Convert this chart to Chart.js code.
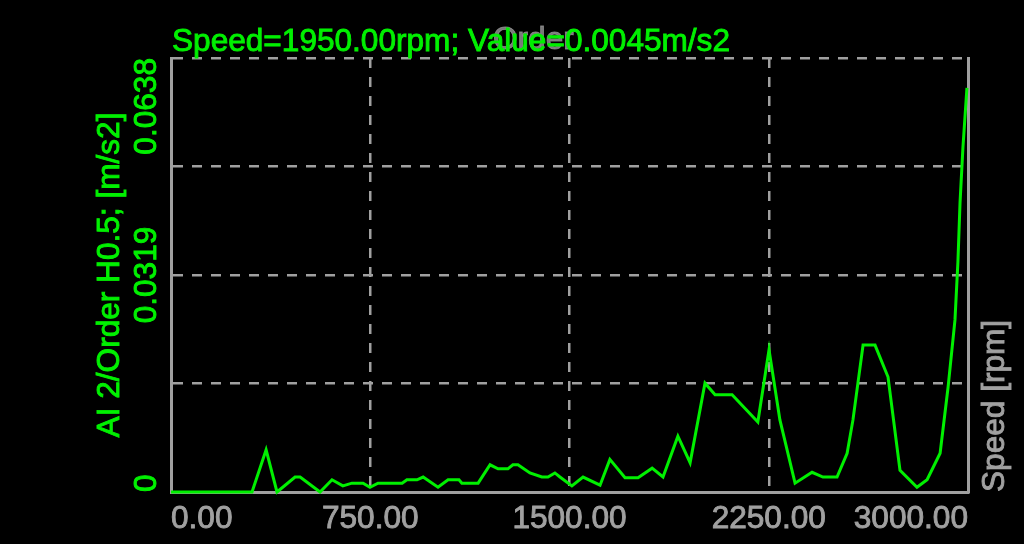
<!DOCTYPE html>
<html>
<head>
<meta charset="utf-8">
<script src="https://cdn.jsdelivr.net/npm/chart.js@4/dist/chart.umd.min.js"></script>
<style>
  html, body { margin: 0; padding: 0; background: #000; }
  #wrap { width: 1024px; height: 544px; }
</style>
</head>
<body>
<div id="wrap"><canvas id="orderChart"></canvas></div>
<script>
// datos
const speedRpm = [0, 305, 358, 399, 467, 486, 561, 606, 647, 681, 723, 749, 779, 870, 888, 926, 949,
  1005, 1043, 1084, 1095, 1156, 1201, 1231, 1268, 1287, 1306, 1351, 1396, 1419, 1445, 1464, 1509,
  1551, 1615, 1652, 1709, 1758, 1811, 1852, 1908, 1954, 2010, 2048, 2112, 2209, 2251, 2292, 2349,
  2413, 2454, 2507, 2545, 2567, 2605, 2650, 2699, 2744, 2808, 2846, 2895, 2925, 2951, 2962, 2970,
  2981, 2996];
const accelValues = [0, 0, 0.0062, 0, 0.0022, 0.0022, 0, 0.0018, 0.0009, 0.0013, 0.0013, 0.0007, 0.0013, 0.0013, 0.0018, 0.0018, 0.0022,
  0.0007, 0.0018, 0.0018, 0.0013, 0.0013, 0.0040, 0.0034, 0.0034, 0.0040, 0.0040, 0.0028, 0.0022, 0.0022, 0.0028, 0.0022, 0.0009,
  0.0022, 0.0010, 0.0048, 0.0021, 0.0021, 0.0035, 0.0022, 0.0082, 0.0043, 0.0160, 0.0143, 0.0143, 0.0103, 0.0209, 0.0106, 0.0013,
  0.0029, 0.0022, 0.0022, 0.0057, 0.0106, 0.0216, 0.0216, 0.0169, 0.0032, 0.0007, 0.0018, 0.0057, 0.0154, 0.0253, 0.0338, 0.0425,
  0.0507, 0.0594];

const xTickValues = [0, 750, 1500, 2250, 3000];
const xTickLabels = ['0.00', '750.00', '1500.00', '2250.00', '3000.00'];
const yTickValues = [0, 0.01595, 0.0319, 0.04785, 0.0638];
const yTickLabels = ['0', '', '0.0319', '', '0.0638'];

const titleText = 'Speed=1950.00rpm; Value=0.0045m/s2';
const ghostText = 'Order';
const yTitle = 'AI 2/Order H0.5; [m/s2]';
const y2Title = 'Speed [rpm]';

const GREEN = '#00f000';
const GREY = '#a0a0a0';
const FONT = "31.6px 'Liberation Sans', Arial, sans-serif";

// texto un poco mas grueso, como en la captura original
function boldText(ctx, txt, x, y, color) {
  ctx.fillStyle = color;
  ctx.strokeStyle = color;
  ctx.lineWidth = 0.9;
  ctx.fillText(txt, x, y);
  ctx.strokeText(txt, x, y);
}

// textos dibujados sobre el canvas
const labelsPlugin = {
  id: 'labels',
  afterDraw(chart) {
    const ctx = chart.ctx;
    const area = chart.chartArea;
    const xs = chart.scales.x;
    const ys = chart.scales.y;
    ctx.save();
    ctx.font = FONT;
    ctx.textBaseline = 'middle';

    // titulo fantasma y titulo
    ctx.textAlign = 'left';
    boldText(ctx, ghostText, 493, 40, 'rgba(150,150,150,0.8)');
    boldText(ctx, titleText, 172, 42, GREEN);

    // etiquetas eje x
    xTickValues.forEach((v, i) => {
      const px = xs.getPixelForValue(v);
      ctx.textAlign = i === 0 ? 'left' : (i === xTickValues.length - 1 ? 'right' : 'center');
      boldText(ctx, xTickLabels[i], px, 519, GREY);
    });

    // etiquetas eje y (rotadas)
    yTickValues.forEach((v, i) => {
      if (!yTickLabels[i]) return;
      const py = ys.getPixelForValue(v);
      ctx.save();
      ctx.translate(147, py);
      ctx.rotate(-Math.PI / 2);
      ctx.textAlign = i === 0 ? 'left' : (i === yTickValues.length - 1 ? 'right' : 'center');
      boldText(ctx, yTickLabels[i], 0, 0, GREEN);
      ctx.restore();
    });

    // titulo eje y
    ctx.save();
    ctx.translate(110, (area.top + area.bottom) / 2);
    ctx.rotate(-Math.PI / 2);
    ctx.textAlign = 'center';
    boldText(ctx, yTitle, 0, 0, GREEN);
    ctx.restore();

    // titulo eje derecho
    ctx.save();
    ctx.translate(995, area.bottom);
    ctx.rotate(-Math.PI / 2);
    ctx.textAlign = 'left';
    boldText(ctx, y2Title, 0, 0, GREY);
    ctx.restore();

    ctx.restore();
  }
};

const bgPlugin = {
  id: 'bg',
  beforeDraw(chart) {
    const ctx = chart.ctx;
    ctx.save();
    ctx.fillStyle = '#000';
    ctx.fillRect(0, 0, chart.width, chart.height);
    ctx.restore();
  }
};

const ctx = document.getElementById('orderChart').getContext('2d');
const orderChart = new Chart(ctx, {
  type: 'line',
  data: {
    datasets: [{
      data: speedRpm.map((s, i) => ({ x: s, y: accelValues[i] })),
      borderColor: GREEN,
      borderWidth: 3,
      tension: 0,
      pointRadius: 0,
      fill: false,
      clip: false
    }]
  },
  options: {
    responsive: true,
    maintainAspectRatio: false,
    animation: false,
    events: [],
    layout: { padding: { left: 171, top: 58, right: 56, bottom: 52 } },
    plugins: { legend: { display: false }, tooltip: { enabled: false }, title: { display: false } },
    scales: {
      x: {
        type: 'linear',
        min: 0,
        max: 3000,
        afterBuildTicks: (scale) => { scale.ticks = xTickValues.map(v => ({ value: v })); },
        ticks: { display: false },
        grid: {
          drawTicks: false,
          lineWidth: 2.5,
          color: (c) => (c.index === 0 || c.index === xTickValues.length - 1) ? 'rgba(0,0,0,0)' : GREY
        },
        border: { display: true, color: GREY, width: 3, dash: [10, 9] }
      },
      y: {
        type: 'linear',
        min: 0,
        max: 0.0638,
        afterBuildTicks: (scale) => { scale.ticks = yTickValues.map(v => ({ value: v })); },
        ticks: { display: false },
        grid: {
          drawTicks: false,
          lineWidth: 2.5,
          color: (c) => c.index === 0 ? 'rgba(0,0,0,0)' : GREY
        },
        border: { display: true, color: GREY, width: 3, dash: [10, 9] }
      },
      y2: {
        type: 'linear',
        position: 'right',
        min: 0,
        max: 1,
        ticks: { display: false },
        grid: { display: false, drawTicks: false },
        border: { display: true, color: GREY, width: 3 }
      }
    }
  },
  plugins: [bgPlugin, labelsPlugin]
});
</script>
</body>
</html>
